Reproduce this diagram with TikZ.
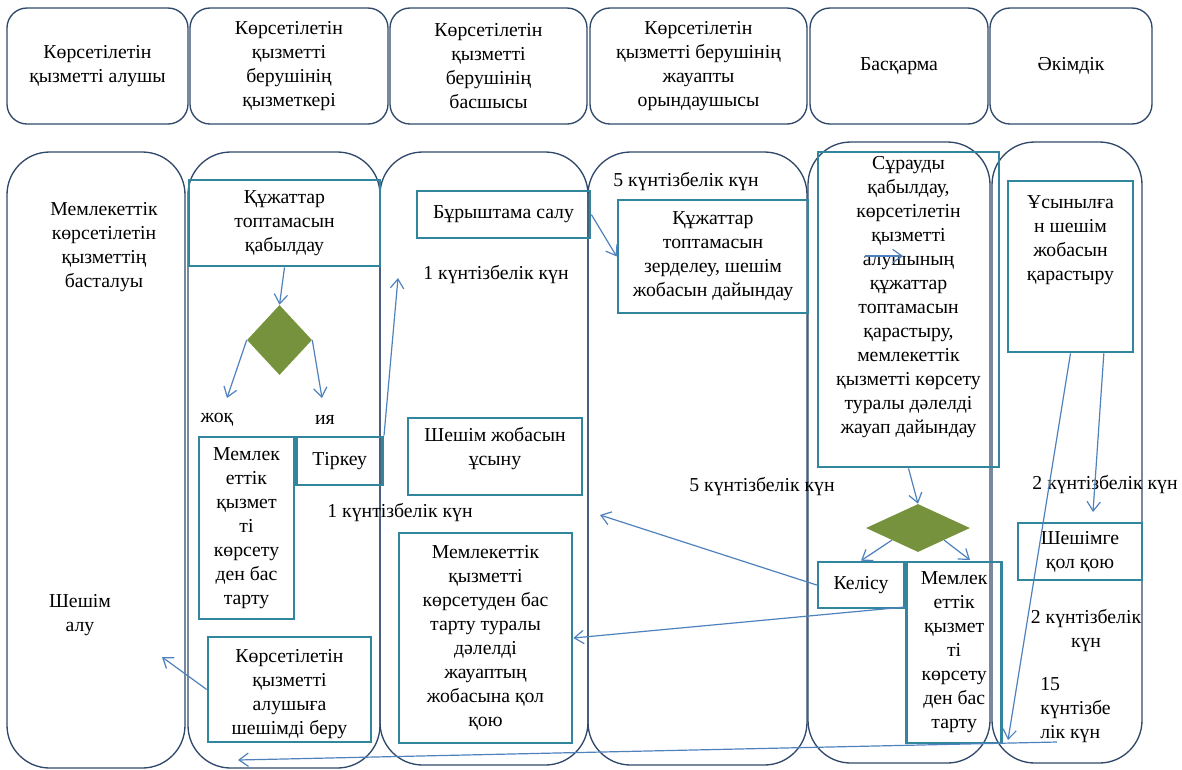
\documentclass[tikz,border=0pt]{standalone}
\usepackage{fontspec}
\setmainfont{Liberation Serif}
\usepackage{xcolor}
\usepackage{tikz}
\usetikzlibrary{shapes.geometric, arrows.meta, positioning}

\definecolor{laneblue}{HTML}{30496A}
\definecolor{boxteal}{HTML}{31859C}
\definecolor{arrowblue}{HTML}{4F81BD}
\definecolor{choicegreen}{HTML}{76923C}

\begin{document}
\begin{tikzpicture}[x=0.75pt, y=-0.75pt, node distance=6pt,
  every node/.style={font=\fontsize{14.8}{18}\selectfont, align=center, inner sep=0pt},
  laneheader/.style={rectangle, rounded corners=15pt, draw=laneblue, line width=1pt, minimum height=87pt},
  lane/.style={draw=laneblue, line width=1pt, rounded corners=32pt},
  stage/.style={rectangle, draw=boxteal, line width=2pt},
  choice/.style={diamond, fill=choicegreen},
  link/.style={draw=arrowblue, line width=0.9pt, -{Straight Barb[length=7pt,width=10pt]}}]
\useasboundingbox (0,0) rectangle (1182,769);

% swimlanes
\draw [lane] (7,152) rectangle (185,768);
\draw [lane] (188,152) rectangle (380,768);
\draw [lane] (380,152) rectangle (588,765);
\draw [lane] (588,152) rectangle (807,765);
\draw [lane] (808,142) rectangle (990,763);
\draw [lane] (992,142) rectangle (1142,763);

% headers
\node (h1) [laneheader, minimum width=135.75pt] at (97.5,66) {Көрсетілетін\\қызметті алушы};
\node (h2) [laneheader, minimum width=148.5pt] at (289,66) {Көрсетілетін\\қызметті\\берушінің\\қызметкері};
\node (h3) [laneheader, minimum width=147.75pt] at (488.5,66) {Көрсетілетін\\қызметті\\берушінің\\басшысы};
\node (h4) [laneheader, minimum width=162.75pt] at (698.5,66) {Көрсетілетін\\қызметті берушінің\\жауапты\\орындаушысы};
\node (h5) [laneheader, minimum width=133.5pt] at (899,66) {Басқарма};
\node (h6) [laneheader, minimum width=121.5pt] at (1071,66) {Әкімдік};

% service recipient
\node (start) at (104,247) {Мемлекеттік\\көрсетілетін\\қызметтің\\басталуы};
\node (finish) at (80,615) {Шешім\\алу};

% employee
\node (receive) [stage, minimum width=143.25pt, minimum height=64.5pt] at (284.5,223) {Құжаттар\\топтамасын\\қабылдау};
\node (check1) [choice, minimum width=48.75pt, minimum height=52.5pt] at (279.5,340) {};
\node (no) at (217,420) {жоқ};
\node (yes) at (325,420) {ия};
\node (reject1) [stage, minimum width=71.25pt, minimum height=136.5pt] at (246.5,528) {Мемлек\\еттік\\қызмет\\ті\\көрсету\\ден бас\\тарту};
\node (tirkeu) [stage, minimum width=64.5pt, minimum height=36pt, anchor=north west] at (reject1.north east) {Тіркеу};
\node (issue) [stage, minimum width=122.25pt, minimum height=78.75pt] at (289.5,689.5) {};
\node (issuetext) [below=10pt of issue.north] {Көрсетілетін\\қызметті\\алушыға\\шешімді беру};
\node (day1b) at (400,513) {1 күнтізбелік күн};

% head
\node (visa) [stage, minimum width=129.75pt, minimum height=35.25pt] at (503.5,214.5) {Бұрыштама салу};
\node (day1a) at (496,275) {1 күнтізбелік күн};
\node (propose) [stage, minimum width=130.5pt, minimum height=57.75pt] at (495,456.5) {};
\node (proposetext) [below=8pt of propose.north] {Шешім жобасын\\ұсыну};
\node (refusal) [stage, minimum width=129.75pt, minimum height=157.5pt] at (485.5,638) {Мемлекеттік\\қызметті\\көрсетуден бас\\тарту туралы\\дәлелді\\жауаптың\\жобасына қол\\қою};

% executor
\node (day5a) at (686,182) {5 күнтізбелік күн};
\node (study) [stage, minimum width=142.5pt, minimum height=84.75pt] at (713,256.5) {Құжаттар\\топтамасын\\зерделеу, шешім\\жобасын дайындау};
\node (day5b) at (762,487) {5 күнтізбелік күн};

% department
\node (review) [stage, minimum width=135.75pt, minimum height=236.25pt] at (908.5,309.5) {};
\node (reviewtext) [below=4pt of review.north] {Сұрауды\\қабылдау,\\көрсетілетін\\қызметті\\алушының\\құжаттар\\топтамасын\\қарастыру,\\мемлекеттік\\қызметті көрсету\\туралы дәлелді\\жауап дайындау};
\node (check2) [choice, minimum width=78pt, minimum height=36pt] at (918,528) {};
\node (agree) [stage, minimum width=64.5pt, minimum height=34.5pt] at (861,585) {Келісу};
\node (reject2) [stage, minimum width=71.25pt, minimum height=135.75pt, anchor=north west] at (agree.north east) {Мемлек\\еттік\\қызмет\\ті\\көрсету\\ден бас\\тарту};

% akimat
\node (consider) [stage, minimum width=93.75pt, minimum height=128.25pt] at (1070.5,266.5) {};
\node (considertext) [below=12pt of consider.north] {Ұсынылға\\н шешім\\жобасын\\қарастыру};
\node (day2a) at (1105,485) {2 күнтізбелік күн};
\node (sign) [stage, minimum width=93pt, minimum height=42.75pt] at (1080,551.5) {Шешімге\\қол қою};
\node (day2b) at (1086,631) {2 күнтізбелік\\күн};
\node (day15) [anchor=west, align=left] at (1040,710) {15\\күнтізбе\\лік күн};

% free arrow ends
\coordinate (noend) at (227,398);
\coordinate (yesend) at (322,398);
\coordinate (upend) at (398,278);
\coordinate (loopstart) at (865,256);
\coordinate (loopend) at (903,256);
\coordinate (rejectin) at (970,560);
\coordinate (agreeend) at (600,515);
\coordinate (finishend) at (162,657);
\coordinate (downend) at (1008,740);
\coordinate (signin) at (1093,512);
\coordinate (backstart) at (1057,742);
\coordinate (backend) at (238,760);

% connectors
\draw [link] (receive.south) -- (check1.north);
\draw [link] (check1.west) -- (noend);
\draw [link] (check1.east) -- (yesend);
\draw [link] (tirkeu.north east) -- (upend);
\draw [link] (visa.east) -- (study.west);
\draw [link] (loopstart) -- (loopend);
\draw [link] (review.south) -- (check2.north);
\draw [link] (check2.south west) -- (agree.north);
\draw [link] (check2.south east) -- (rejectin);
\draw [link] (agree.west) -- (agreeend);
\draw [link] (reject2.137) -- (refusal.east);
\draw [link] (issue.west) -- (finishend);
\draw [link] (consider.south) -- (downend);
\draw [link] (consider.-69) -- (signin);
\draw [link] (backstart) -- (backend);
\end{tikzpicture}
\end{document}
